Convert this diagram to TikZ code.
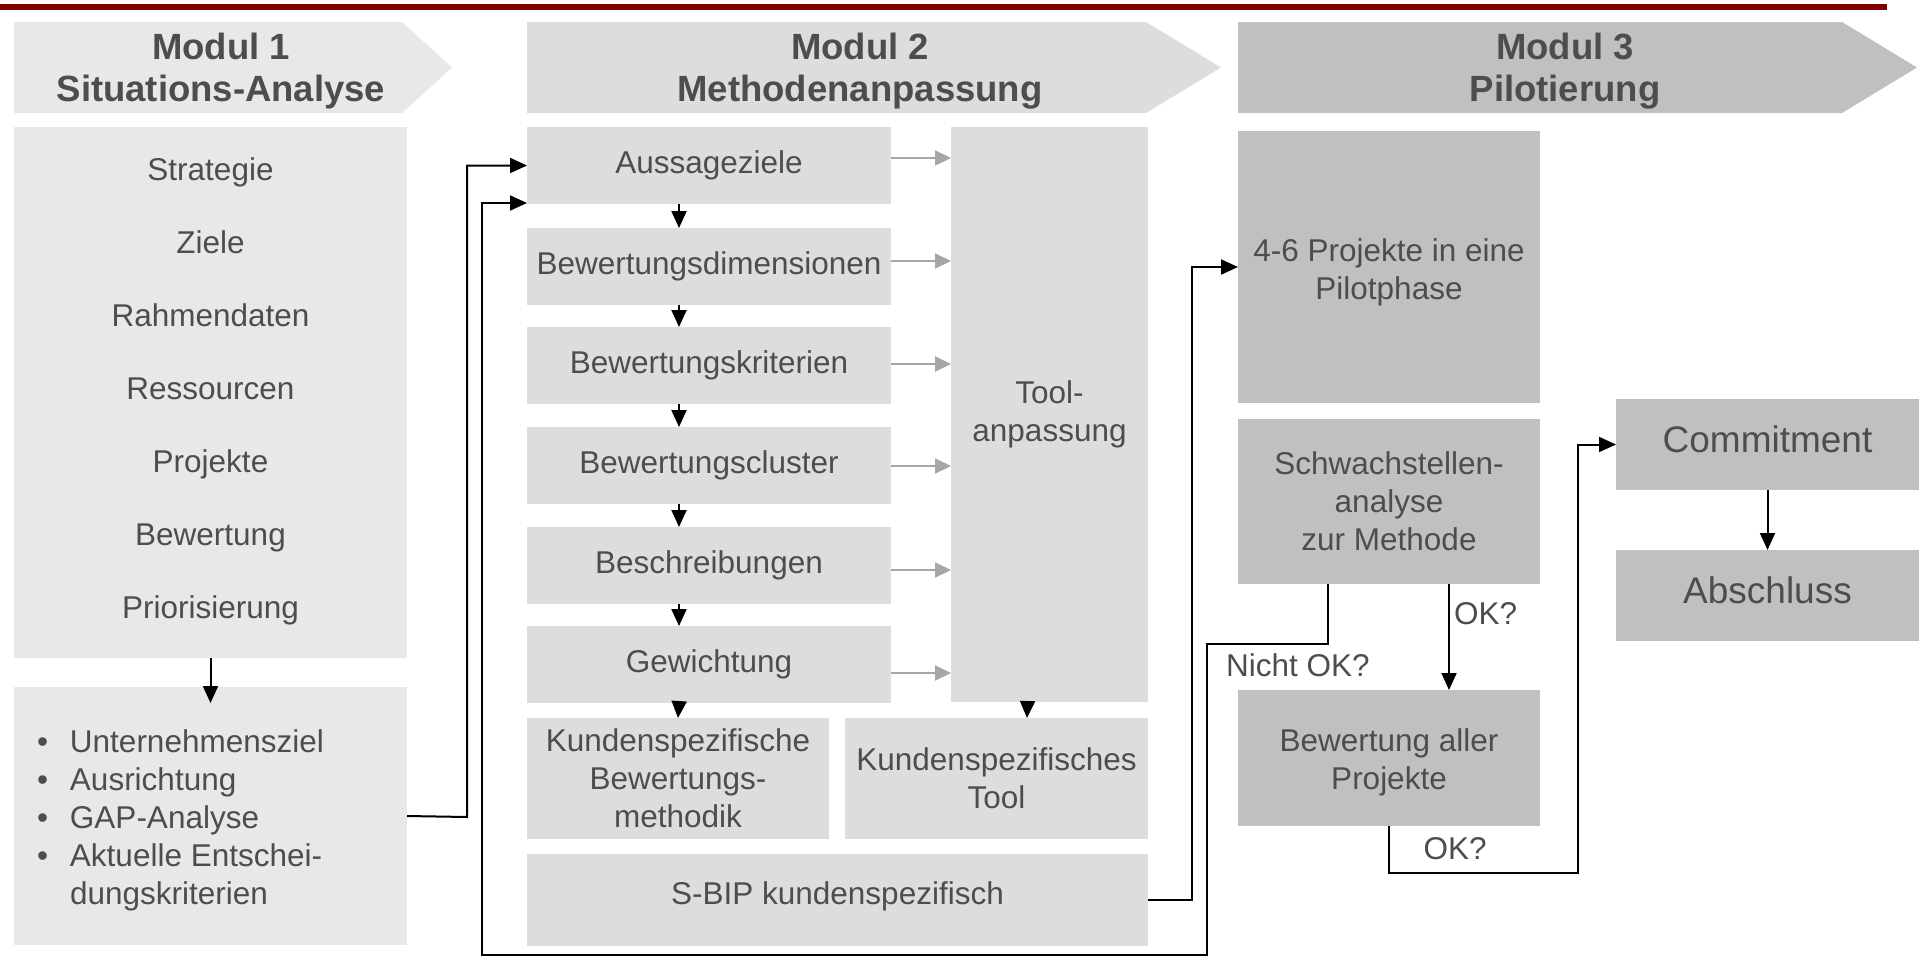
\documentclass[tikz,border=0pt]{standalone}
\usepackage{fontspec}
\setmainfont{Liberation Sans}
\usetikzlibrary{arrows.meta,calc}
\definecolor{cred}{HTML}{800000}
\definecolor{ca}{HTML}{E8E8E8}
\definecolor{cb}{HTML}{DDDDDD}
\definecolor{cc}{HTML}{C0C0C0}
\definecolor{ctext}{HTML}{4D4D4D}
\definecolor{cgarr}{HTML}{A6A6A6}
\newcommand\fsmain{\fontsize{31.5}{38}\selectfont}
\newcommand\fshdr{\fontsize{36.5}{42}\selectfont\bfseries}
\newcommand\fsbig{\fontsize{37}{44}\selectfont}
\begin{document}
\begin{tikzpicture}[x=1pt,y=-1pt,
  box/.style={inner sep=0pt, outer sep=0pt, anchor=north west, text=ctext, align=center, font=\fsmain},
  txt/.style={inner sep=0pt, outer sep=0pt, text=ctext, align=center, font=\fsmain},
  hdr/.style={inner sep=0pt, outer sep=0pt, text=ctext, align=center, font=\fshdr},
  arr/.style={line width=2pt, draw=black, -{Triangle[length=17pt,width=15pt]}},
  garr/.style={line width=2pt, draw=cgarr, -{Triangle[length=16pt,width=15pt]}}]
\useasboundingbox (0,0) rectangle (1921,959);
% top line
\fill[cred] (0,4) rectangle (1887,10);
% chevrons
\fill[ca] (14,22) -- (402,22) -- (452,67.5) -- (402,113) -- (14,113) -- cycle;
\fill[cb] (527,22) -- (1146,22) -- (1221,67.5) -- (1146,113) -- (527,113) -- cycle;
\fill[cc] (1238,22) -- (1842,22) -- (1917,67.5) -- (1842,113) -- (1238,113) -- cycle;
\node[hdr] (h1) at (221,71) {Modul 1\\Situations-Analyse};
\node[hdr] (h2) at (860,71) {Modul 2\\Methodenanpassung};
\node[hdr] (h3) at (1565,71) {Modul 3\\Pilotierung};
% Modul 1
\node[box, fill=ca, minimum width=393, minimum height=531] (m1box) at (14,127) {};
\node[txt, font=\fontsize{31.5}{73}\selectfont] (m1t) at (210.5,391) {Strategie\\Ziele\\Rahmendaten\\Ressourcen\\Projekte\\Bewertung\\Priorisierung};
\node[box, fill=ca, minimum width=393, minimum height=258] (bullets) at (14,687) {};
\node[txt, anchor=west, align=left] (blt) at (37,821) {\begin{tabular}{@{}p{33pt}@{}l@{}}
\textbullet & Unternehmensziel\\
\textbullet & Ausrichtung\\
\textbullet & GAP-Analyse\\
\textbullet & Aktuelle Entschei-\\
 & dungskriterien
\end{tabular}};
% Modul 2
\node[box, fill=cb, minimum width=364, minimum height=77] (aus) at (527,127) {Aussageziele};
\node[box, fill=cb, minimum width=364, minimum height=77] (dim) at (527,228) {Bewertungsdimensionen};
\node[box, fill=cb, minimum width=364, minimum height=77] (krit) at (527,327) {Bewertungskriterien};
\node[box, fill=cb, minimum width=364, minimum height=77] (clus) at (527,427) {Bewertungscluster};
\node[box, fill=cb, minimum width=364, minimum height=77] (besch) at (527,527) {Beschreibungen};
\node[box, fill=cb, minimum width=364, minimum height=77] (gew) at (527,626) {Gewichtung};
\node[box, fill=cb, minimum width=197, minimum height=575] (tool) at (951,127) {Tool-\\anpassung};
\node[box, fill=cb, minimum width=302, minimum height=121] (kbm) at (527,718) {Kundenspezifische\\Bewertungs-\\methodik};
\node[box, fill=cb, minimum width=303, minimum height=121] (kt) at (845,718) {Kundenspezifisches\\Tool};
\node[box, fill=cb, minimum width=621, minimum height=92,
  label={[txt,yshift=4pt]center:S-BIP kundenspezifisch}] (sbip) at (527,854) {};
% Modul 3
\node[box, fill=cc, minimum width=302, minimum height=272,
  label={[txt,yshift=-5pt]center:{4-6 Projekte in eine\\Pilotphase}}] (pilot) at (1238,131) {};
\node[box, fill=cc, minimum width=302, minimum height=165] (schw) at (1238,419) {Schwachstellen-\\analyse\\zur Methode};
\node[box, fill=cc, minimum width=302, minimum height=136,
  label={[txt,yshift=-4pt]center:{Bewertung aller\\Projekte}}] (bew) at (1238,690) {};
\node[box, fill=cc, minimum width=303, minimum height=91,
  label={[txt,font=\fsbig,yshift=5pt]center:Commitment}] (commit) at (1616,399) {};
\node[box, fill=cc, minimum width=303, minimum height=91,
  label={[txt,font=\fsbig,yshift=5pt]center:Abschluss}] (absch) at (1616,550) {};
% labels
\node[txt, anchor=west] (okA) at (1454,614) {OK?};
\node[txt] (okB) at (1455,849) {OK?};
\node[txt] (nok) at (1298,665) {Nicht OK?};
% arrows Modul 1
\draw[arr] (m1box.south) -- ($(bullets.north)+(0,16)$);
\draw[arr] (bullets.east) -- (467,817) |- (aus.west);
% arrows Modul 2 vertical
\draw[arr] ($(aus.south)+(-30,0)$) -- ($(dim.north)+(-30,0)$);
\draw[arr] ($(dim.south)+(-30,0)$) -- ($(krit.north)+(-30,0)$);
\draw[arr] ($(krit.south)+(-30,0)$) -- ($(clus.north)+(-30,0)$);
\draw[arr] ($(clus.south)+(-30,0)$) -- ($(besch.north)+(-30,0)$);
\draw[arr] ($(besch.south)+(-30,0)$) -- ($(gew.north)+(-30,0)$);
\draw[arr] ($(gew.south)+(-30,0)$) -- (kbm.north);
\draw[arr] ($(tool.south)+(-22,0)$) -- ($(kt.north)+(30.5,0)$);
% gray arrows
\draw[garr] (aus.east |- 0,158) -- (tool.west |- 0,158);
\draw[garr] (dim.east |- 0,261) -- (tool.west |- 0,261);
\draw[garr] (krit.east |- 0,364) -- (tool.west |- 0,364);
\draw[garr] (clus.east |- 0,466) -- (tool.west |- 0,466);
\draw[garr] (besch.east |- 0,570) -- (tool.west |- 0,570);
\draw[garr] (gew.east |- 0,673) -- (tool.west |- 0,673);
% S-BIP to pilot
\draw[arr] (sbip.east) -- (1192,900) |- (pilot.west);
% Nicht OK loop
\draw[arr] ($(schw.south)+(-61,0)$) -- (1328,644) -- (1207,644) -- (1207,955) -- (482,955) -- (482,203) -- (aus.west |- 0,203);
% OK arrows
\draw[arr] (schw.south -| 1449,0) -- (bew.north -| 1449,0);
\draw[arr] (bew.south) -- (1389,873) -- (1578,873) |- (commit.west);
\draw[arr] (commit.south) -- (absch.north);
\end{tikzpicture}
\end{document}
